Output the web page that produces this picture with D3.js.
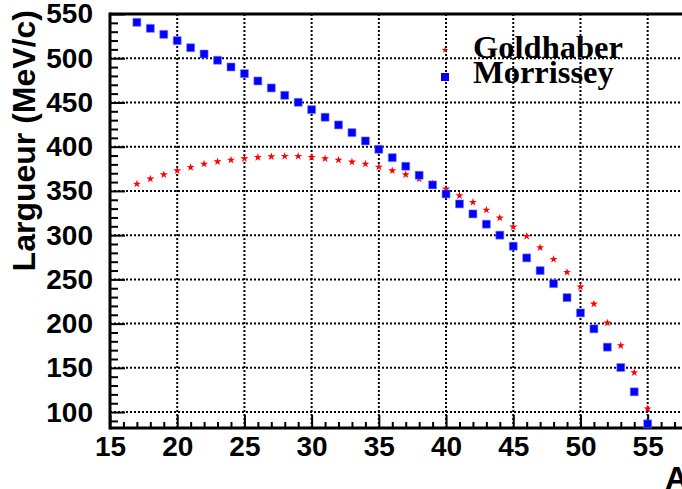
<!DOCTYPE html>
<html>
<head>
<meta charset="utf-8">
<script src="https://cdn.jsdelivr.net/npm/d3@7"></script>
<style>
  html, body { margin: 0; padding: 0; background: #fff; }
  svg { display: block; }
</style>
</head>
<body>
<svg id="chart" width="682" height="489"></svg>
<script>
// Mass number A
const massNumbers = [17, 18, 19, 20, 21, 22, 23, 24, 25, 26, 27, 28, 29, 30, 31, 32, 33, 34, 35, 36,
                     37, 38, 39, 40, 41, 42, 43, 44, 45, 46, 47, 48, 49, 50, 51, 52, 53, 54, 55];

// Width (MeV/c), Goldhaber model
const goldhaber = [357.9, 363.6, 368.4, 372.9, 376.7, 380.5, 383.1, 385.0, 386.5, 388.0,
                   388.8, 389.2, 389.2, 388.0, 386.5, 385.0, 382.8, 380.5, 377.1, 372.9,
                   368.4, 363.6, 358.2, 352.3, 344.7, 337.2, 328.5, 319.5, 309.3, 298.8,
                   285.9, 272.8, 258.1, 241.5, 222.3, 200.8, 175.2, 144.7, 103.7];

// Width (MeV/c), Morrissey systematics
const morrissey = [540.6, 533.8, 527.0, 519.9, 511.9, 504.8, 497.7, 490.1, 482.6, 474.3,
                   466.4, 458.1, 450.2, 441.9, 433.3, 424.6, 415.9, 406.5, 397.1, 387.6,
                   377.9, 367.7, 356.8, 346.6, 335.3, 324.0, 312.4, 300.0, 287.5, 274.3,
                   259.9, 245.2, 229.4, 212.1, 194.1, 173.4, 150.4, 122.9, 86.7];

const xTicks = [15, 20, 25, 30, 35, 40, 45, 50, 55];
const yTicks = [100, 150, 200, 250, 300, 350, 400, 450, 500, 550];
const xDomain = [15, 58];
const yDomain = [82, 550];
const legendItems = ["Goldhaber", "Morrissey"];

const svg = d3.select("#chart");
const plotLeft = 110, plotRight = 688, plotTop = 14, plotBottom = 428;

const x = d3.scaleLinear().domain(xDomain).range([plotLeft, plotRight]);
const y = d3.scaleLinear().domain(yDomain).range([plotBottom, plotTop]);

const sansBold = "'Liberation Sans', Arial, sans-serif";
const serifBold = "'Liberation Serif', 'Times New Roman', serif";

// dotted grid
const grid = svg.append("g");
grid.selectAll("line.gx").data(xTicks.filter(d => d > xDomain[0])).join("line")
  .attr("x1", d => x(d)).attr("x2", d => x(d))
  .attr("y1", plotTop).attr("y2", plotBottom)
  .attr("stroke", "#000").attr("stroke-width", 2).attr("stroke-dasharray", "2,2");
grid.selectAll("line.gy").data(yTicks.filter(d => d < yDomain[1])).join("line")
  .attr("x1", plotLeft).attr("x2", 690)
  .attr("y1", d => y(d)).attr("y2", d => y(d))
  .attr("stroke", "#000").attr("stroke-width", 2).attr("stroke-dasharray", "2,2");

// x axis: inward ticks, major every 5, minor every 1
const xAxis = svg.append("g").attr("transform", `translate(0,${plotBottom})`)
  .call(d3.axisTop(x).tickValues(d3.range(15, 59, 1)).tickSize(6).tickFormat(""));
xAxis.select(".domain").remove();
xAxis.selectAll(".tick line").attr("stroke-width", 2)
  .attr("y2", d => (d % 5 === 0 ? -13 : -6));
const xLabels = svg.append("g").attr("transform", `translate(0,${plotBottom})`)
  .call(d3.axisBottom(x).tickValues(xTicks).tickSize(0).tickPadding(8));
xLabels.select(".domain").remove();
xLabels.selectAll("text").attr("font-family", sansBold).attr("font-weight", "bold")
  .attr("font-size", 28).attr("fill", "#000");

// y axis: inward ticks, major every 50, minor every 10
const yAxis = svg.append("g").attr("transform", `translate(${plotLeft},0)`)
  .call(d3.axisRight(y).tickValues(d3.range(90, 551, 10)).tickSize(8).tickFormat(""));
yAxis.select(".domain").remove();
yAxis.selectAll(".tick line").attr("stroke-width", 2)
  .attr("x2", d => (d % 50 === 0 ? 15 : 8));
const yLabels = svg.append("g").attr("transform", `translate(${plotLeft},0)`)
  .call(d3.axisLeft(y).tickValues(yTicks).tickSize(0).tickPadding(17));
yLabels.select(".domain").remove();
yLabels.selectAll("text").attr("font-family", sansBold).attr("font-weight", "bold")
  .attr("font-size", 28).attr("fill", "#000");

// frame
svg.append("line").attr("x1", plotLeft).attr("x2", 690).attr("y1", plotTop).attr("y2", plotTop)
  .attr("stroke", "#000").attr("stroke-width", 3);
svg.append("line").attr("x1", plotLeft).attr("x2", 690).attr("y1", plotBottom).attr("y2", plotBottom)
  .attr("stroke", "#000").attr("stroke-width", 3);
svg.append("line").attr("x1", plotLeft).attr("x2", plotLeft)
  .attr("y1", plotTop - 1.5).attr("y2", plotBottom + 1.5)
  .attr("stroke", "#000").attr("stroke-width", 3);

// series
const star = d3.symbol().type(d3.symbolStar).size(20);
const square = d3.symbol().type(d3.symbolSquare).size(64);

svg.append("g").selectAll("path").data(massNumbers).join("path")
  .attr("d", star)
  .attr("transform", (d, i) => `translate(${x(d)},${y(goldhaber[i])})`)
  .attr("fill", "#ff0000");

svg.append("g").selectAll("path").data(massNumbers).join("path")
  .attr("d", square)
  .attr("transform", (d, i) => `translate(${x(d)},${y(morrissey[i])})`)
  .attr("fill", "#0000ff").attr("stroke", "#8080ff").attr("stroke-width", 0.6);

// legend
const legend = svg.append("g");
legend.append("path").attr("d", d3.symbol().type(d3.symbolStar).size(14))
  .attr("transform", "translate(445,50)").attr("fill", "#ff0000");
legend.append("path").attr("d", square)
  .attr("transform", "translate(445,77)").attr("fill", "#0000ff");
legend.selectAll("text").data(legendItems).join("text")
  .attr("x", 473).attr("y", (d, i) => 58 + i * 25)
  .attr("font-family", serifBold).attr("font-weight", "bold").attr("font-size", 32.5)
  .attr("fill", "#000").text(d => d);

// axis titles
svg.append("text")
  .attr("transform", "translate(35,10) rotate(-90)")
  .attr("text-anchor", "end")
  .attr("font-family", sansBold).attr("font-weight", "bold").attr("font-size", 32)
  .attr("fill", "#000").text("Largueur (MeV/c)");
svg.append("text")
  .attr("x", 665).attr("y", 489)
  .attr("font-family", sansBold).attr("font-weight", "bold").attr("font-size", 32)
  .attr("fill", "#000").text("A");
</script>
</body>
</html>
